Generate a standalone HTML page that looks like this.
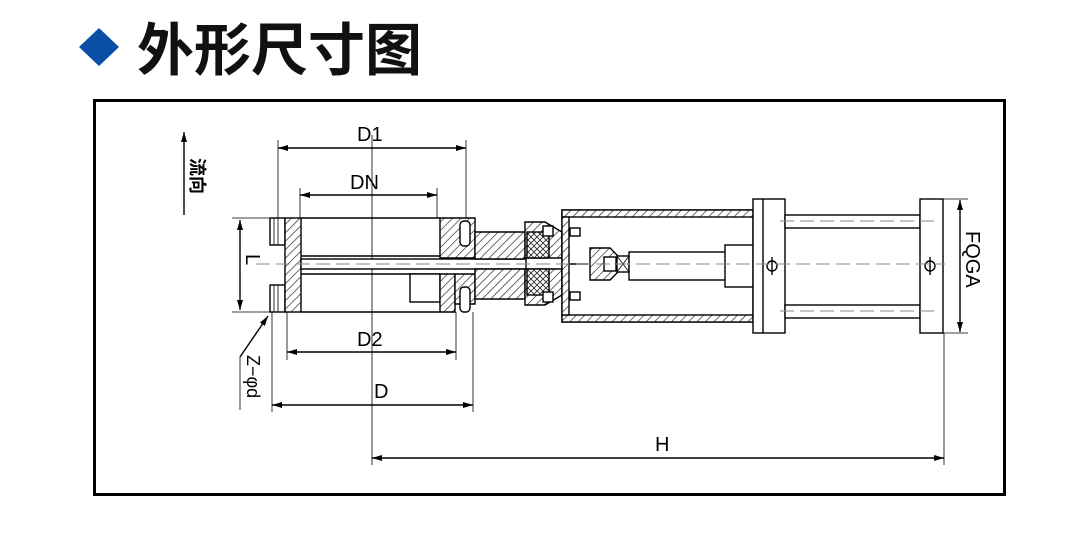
<!DOCTYPE html>
<html><head><meta charset="utf-8"><style>
body{margin:0;background:#fff;width:1065px;height:547px;overflow:hidden}
svg{display:block}
text{font-family:"Liberation Sans","Noto Sans CJK SC",sans-serif}
</style></head><body>
<svg width="1065" height="547" viewBox="0 0 1065 547">
<defs>
<pattern id="h" patternUnits="userSpaceOnUse" width="6" height="6" patternTransform="rotate(45)">
<rect width="6" height="6" fill="#fff"/><line x1="0" y1="0" x2="0" y2="6" stroke="#222" stroke-width="1.3"/></pattern>
<pattern id="hx" patternUnits="userSpaceOnUse" width="6" height="6">
<rect width="6" height="6" fill="#fff"/><path d="M0 0L6 6M6 0L0 6" stroke="#222" stroke-width="0.8"/></pattern>
<marker id="a" markerWidth="10" markerHeight="6" refX="10" refY="3" orient="auto" markerUnits="userSpaceOnUse"><path d="M0 0L10 3L0 6z" fill="#000"/></marker>
<marker id="b" markerWidth="10" markerHeight="6" refX="0" refY="3" orient="auto" markerUnits="userSpaceOnUse"><path d="M10 0L0 3L10 6z" fill="#000"/></marker>
</defs>
<!-- title -->
<path d="M99 28L119 47L99 66L79 47z" fill="#0a4fa6"/>
<text x="137" y="70" font-size="57" font-weight="bold" fill="#111" font-family="Noto Sans CJK SC,sans-serif">外形尺寸图</text>
<rect x="94.5" y="100.5" width="910" height="394" fill="none" stroke="#000" stroke-width="3"/>
<g stroke="#000" stroke-width="1.4" fill="none">
<line x1="184" y1="215" x2="184" y2="132" marker-end="url(#a)"/>
<line x1="278" y1="140" x2="278" y2="218" stroke-width="0.8"/>
<line x1="466" y1="140" x2="466" y2="232" stroke-width="0.8"/>
<line x1="300" y1="188" x2="300" y2="218" stroke-width="0.8"/>
<line x1="437" y1="188" x2="437" y2="218" stroke-width="0.8"/>
<line x1="287" y1="312" x2="287" y2="360" stroke-width="0.8"/>
<line x1="456" y1="312" x2="456" y2="360" stroke-width="0.8"/>
<line x1="272" y1="312" x2="272" y2="412" stroke-width="0.8"/>
<line x1="473" y1="312" x2="473" y2="412" stroke-width="0.8"/>
<line x1="944" y1="333" x2="944" y2="465" stroke-width="0.8"/>
<line x1="372" y1="135" x2="372" y2="465" stroke-width="0.8"/>
<line x1="232" y1="218" x2="270" y2="218" stroke-width="0.8"/>
<line x1="232" y1="312" x2="270" y2="312" stroke-width="0.8"/>
<line x1="943" y1="199" x2="968" y2="199" stroke-width="0.8"/>
<line x1="943" y1="333" x2="968" y2="333" stroke-width="0.8"/>
<line x1="278" y1="148" x2="466" y2="148" marker-start="url(#b)" marker-end="url(#a)"/>
<line x1="300" y1="195" x2="437" y2="195" marker-start="url(#b)" marker-end="url(#a)"/>
<line x1="287" y1="352" x2="456" y2="352" marker-start="url(#b)" marker-end="url(#a)"/>
<line x1="272" y1="405" x2="473" y2="405" marker-start="url(#b)" marker-end="url(#a)"/>
<line x1="372" y1="458" x2="944" y2="458" marker-start="url(#b)" marker-end="url(#a)"/>
<line x1="240" y1="220" x2="240" y2="310" marker-start="url(#b)" marker-end="url(#a)"/>
<line x1="960" y1="200" x2="960" y2="332" marker-start="url(#b)" marker-end="url(#a)"/>
<line x1="240" y1="357" x2="268" y2="316" marker-end="url(#a)"/>
<line x1="240" y1="357" x2="240" y2="410" stroke-width="0.8"/>
<rect x="270" y="218" width="15" height="27" fill="#fff"/>
<rect x="270" y="285" width="15" height="27" fill="#fff"/>
<path d="M274 218v27M278 218v27M274 285v27M278 285v27" stroke-width="0.8"/>
<rect x="285" y="218" width="16" height="94" fill="url(#h)"/>
<line x1="301" y1="218" x2="440" y2="218"/>
<line x1="301" y1="312" x2="440" y2="312"/>
<line x1="301" y1="256" x2="440" y2="256"/>
<line x1="301" y1="274" x2="440" y2="274"/>
<rect x="301" y="259" width="225" height="10" fill="#fff"/>
<rect x="410" y="274" width="30" height="28" fill="#fff"/>
<path d="M440 218h35v40h-35z" fill="url(#h)"/>
<path d="M440 274h15v38h-15z" fill="url(#h)"/>
<path d="M455 274h20v30h-20z" fill="url(#h)"/>
<rect x="460" y="221" width="10" height="25" rx="4" fill="#fff"/>
<rect x="460" y="287" width="10" height="25" rx="4" fill="#fff"/>
<path d="M475 232h50v27h-50zM475 269h50v30h-50z" fill="url(#h)"/>
<path d="M525 222h20l17 10v26h-37zM525 269h37v26l-17 10h-20z" fill="url(#h)"/>
<rect x="527" y="232" width="22" height="26" fill="url(#hx)"/>
<rect x="527" y="269" width="22" height="26" fill="url(#hx)"/>
<rect x="543" y="226" width="10" height="10" fill="#fff"/>
<rect x="543" y="292" width="10" height="10" fill="#fff"/>
<rect x="562" y="210" width="191" height="112" fill="#fff"/>
<rect x="562" y="210" width="191" height="7" fill="url(#h)"/>
<rect x="562" y="315" width="191" height="7" fill="url(#h)"/>
<rect x="562" y="217" width="7" height="98" fill="url(#h)"/>
<rect x="570" y="228" width="10" height="8" fill="#fff"/>
<rect x="570" y="292" width="10" height="8" fill="#fff"/>
<line x1="569" y1="264" x2="588" y2="264"/>
<path d="M590 248h20l8 8v16l-8 8h-20z" fill="url(#h)"/>
<rect x="604" y="257" width="12" height="14" fill="#fff"/>
<rect x="617" y="256" width="12" height="16" fill="#fff"/>
<path d="M617 256l12 16M629 256l-12 16" stroke-width="0.8"/>
<rect x="629" y="252" width="100" height="28" fill="#fff"/>
<rect x="725" y="245" width="28" height="42" fill="#fff"/>
<rect x="753" y="199" width="32" height="134" fill="#fff"/>
<line x1="763" y1="199" x2="763" y2="333"/>
<rect x="785" y="215" width="135" height="13" fill="#fff"/>
<rect x="785" y="305" width="135" height="13" fill="#fff"/>
<rect x="920" y="199" width="23" height="134" fill="#fff"/>
<circle cx="772" cy="266" r="5"/><line x1="772" y1="257" x2="772" y2="275"/>
<circle cx="930" cy="266" r="5"/><line x1="930" y1="257" x2="930" y2="275"/>
</g>
<g stroke="#888" stroke-width="1" stroke-dasharray="14,6" fill="none">
<line x1="256" y1="264" x2="945" y2="264"/>
<line x1="780" y1="221" x2="935" y2="221"/>
<line x1="780" y1="311" x2="935" y2="311"/>
</g>
<g font-size="20" fill="#000">
<text x="357" y="141">D1</text>
<text x="350" y="189">DN</text>
<text x="357" y="346">D2</text>
<text x="374" y="398">D</text>
<text x="655" y="451">H</text>
<text transform="translate(246,254) rotate(90)">L</text>
<text transform="translate(966,231) rotate(90)">FQGA</text>
<text transform="translate(247,355) rotate(90)" font-size="18">Z−φd</text>
<text transform="translate(191,158) rotate(90)" font-size="18" font-weight="bold">流向</text>
</g>
</svg>
</body></html>
